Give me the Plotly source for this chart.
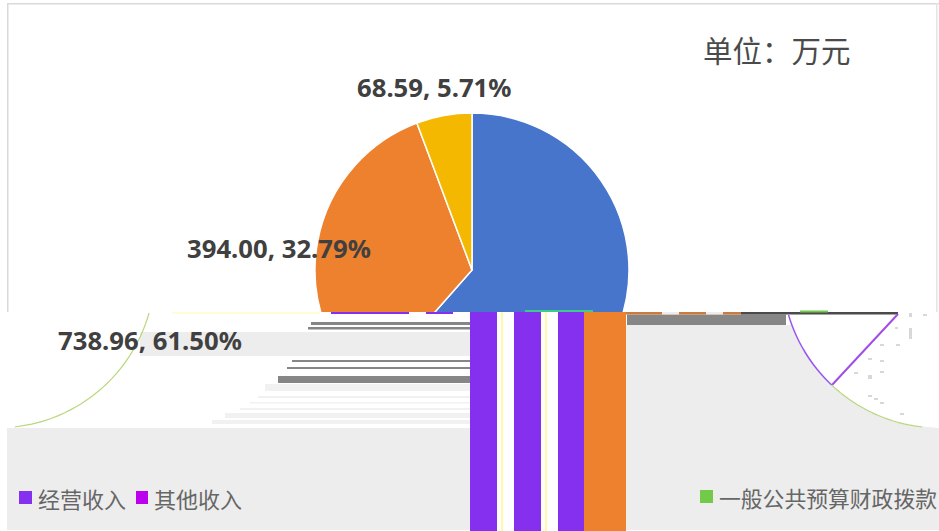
import math
import plotly.graph_objects as go

W, H = 939, 531

categories = ["一般公共预算财政拨款", "经营收入", "其他收入"]
values = [738.96, 394.00, 68.59]
percents = [61.50, 32.79, 5.71]
slice_colors = ["#4675CB", "#EE812E", "#F4B800"]
unit_text = "单位：万元"

GREY = "#EDEDED"
DARK = "#868686"
PURPLE = "#8430EE"
ORANGE = "#EE812E"


def X(x):
    return x / W


def Y(y):
    return 1 - y / H


shapes = []


def rect(x0, y0, x1, y1, color):
    shapes.append(dict(type="rect", xref="paper", yref="paper", layer="above",
                       x0=X(x0), x1=X(x1), y0=Y(y0), y1=Y(y1),
                       fillcolor=color, line_width=0))


def poly(points, fill=None, line=None, width=1.0):
    d = "M " + " L ".join(f"{X(a):.5f},{Y(b):.5f}" for a, b in points)
    if fill:
        d += " Z"
    shapes.append(dict(type="path", xref="paper", yref="paper", layer="above", path=d,
                       fillcolor=fill or "rgba(0,0,0,0)",
                       line=dict(color=line or "rgba(0,0,0,0)", width=width if line else 0)))


def arc(cx, cy, r, y0, y1, side, n=40):
    pts = []
    for i in range(n + 1):
        y = y0 + (y1 - y0) * i / n
        dx = math.sqrt(max(r * r - (y - cy) ** 2, 0))
        pts.append((cx + side * dx, y))
    return pts


# frame of the chart area
rect(0, 312, W, H, "#FFFFFF")
rect(7, 3, 8.5, 312, "#D9D9D9")
rect(7, 3, W, 4.5, "#D9D9D9")
rect(936, 3, 937.5, 312, "#E4E4E4")

# left half of the damaged lower part
rect(7, 428, 470, 530, GREY)
rect(140, 332, 470, 356, GREY)
for y0, y1, x0 in [(384, 391, 265), (396, 398, 258), (402, 403.5, 250), (408, 410, 240),
                   (413, 418, 225), (420, 424, 212)]:
    rect(x0, y0, 470, y1, "#F1F1F1")
for y0, y1, x0 in [(322, 325, 311), (327, 329.5, 308), (360, 362, 292), (367, 369, 287),
                   (376, 383, 278)]:
    rect(x0, y0, 470, y1, DARK)
poly(arc(-3, 270, 158, 313, 427, 1), line="#B9D77C", width=1.2)
poly([(172, 313), (320, 313)], line="#FFFBC8", width=1.5)
rect(331, 312, 409, 314, PURPLE)
rect(426, 312, 453, 314, PURPLE)

# right half of the damaged lower part
grey_pts = [(626, 325), (785, 325)] + arc(940, 270, 158, 325, 428, -1) + [(939, 428), (939, 530), (626, 530)]
poly(grey_pts, fill=GREY)
rect(627, 314.5, 786, 325, DARK)
rect(585, 312, 741, 314.5, "#CB7B3F")
rect(662, 312, 679, 314.5, "#EDEDED")
rect(706, 312, 723, 314.5, "#EDEDED")
rect(741, 312, 898, 314.5, "#4A4A4A")
rect(800, 310.5, 828, 312.5, "#72C94A")
rect(525, 310, 593, 312, "#3FCB8A")
poly(arc(940, 270, 158, 315, 385, -1), line="#9A55F0", width=1.5)
poly([(832, 385), (898, 314)], line="#A24CE8", width=2)
poly(arc(940, 270, 158, 385, 427, -1), line="#B9D77C", width=1.2)
for dx, dy, dw, dh in [(909, 313, 3, 4), (923, 314, 4, 2), (909, 328, 3, 11), (895, 327, 3, 2),
                       (880, 344, 4, 2), (896, 344, 4, 2), (868, 358, 4, 2), (880, 360, 4, 2),
                       (854, 372, 4, 2), (868, 375, 4, 4), (880, 371, 4, 2), (868, 395, 4, 2),
                       (874, 398, 4, 2), (880, 402, 4, 2), (900, 413, 4, 2)]:
    rect(dx, dy, dx + dw, dy + dh, "#D8D8D8")

# vertical stripes
rect(470, 312, 626, 531, "#FFFFFF")
rect(470, 312, 497, 531, PURPLE)
rect(501, 312, 503, 531, "#FFF9A8")
rect(514, 312, 541, 531, PURPLE)
rect(545, 312, 547, 531, "#FFF9A8")
rect(558, 312, 584, 531, PURPLE)
rect(584, 312, 626, 531, ORANGE)

# legend swatches
rect(19, 491, 32, 504, PURPLE)
rect(136, 491, 148, 504, "#BB00EE")
rect(700, 490, 713, 503, "#72C94A")

fig = go.Figure(go.Pie(
    labels=categories,
    values=values,
    sort=False,
    direction="clockwise",
    rotation=0,
    textinfo="none",
    hoverinfo="label+value+percent",
    showlegend=False,
    marker=dict(colors=slice_colors, line=dict(color="#FFFFFF", width=1.5)),
    domain=dict(x=[X(472 - 157), X(472 + 157)], y=[Y(427), Y(113)]),
))


def note(text, x, y, size, color, anchor="left", bold=False, family="Noto Sans CJK SC"):
    return dict(text=f"<b>{text}</b>" if bold else text, xref="paper", yref="paper",
                x=X(x), y=Y(y), xanchor=anchor, yanchor="middle", showarrow=False,
                font=dict(size=size, color=color, family=family))


LABEL = "#404040"
LATIN = "Noto Sans, Open Sans, sans-serif"
annotations = [
    note(unit_text, 701, 49, 29.5, "#4A4A4A"),
    note(f"{values[2]:.2f}, {percents[2]:.2f}%", 355, 88, 25.7, LABEL, bold=True, family=LATIN),
    note(f"{values[1]:.2f}, {percents[1]:.2f}%", 185, 248, 25.7, LABEL, bold=True, family=LATIN),
    note(f"{values[0]:.2f}, {percents[0]:.2f}%", 56, 340, 25.7, LABEL, bold=True, family=LATIN),
    note(categories[1], 36, 498, 22, "#666666"),
    note(categories[2], 152, 498, 22, "#666666"),
    note(categories[0], 717, 497, 21.8, "#666666"),
]

fig.update_layout(width=W, height=H, margin=dict(l=0, r=0, t=0, b=0),
                  paper_bgcolor="#FFFFFF", plot_bgcolor="#FFFFFF",
                  shapes=shapes, annotations=annotations)
fig.write_html("out.html", config=dict(displayModeBar=False),
               post_script="document.body.style.margin='0';document.documentElement.style.overflow='hidden';")
